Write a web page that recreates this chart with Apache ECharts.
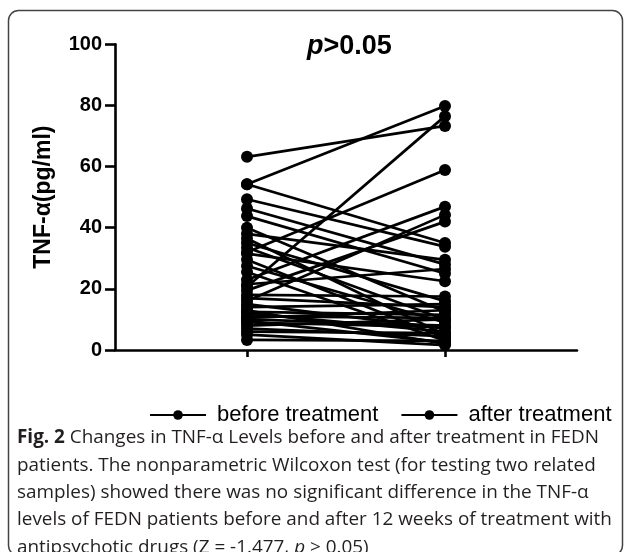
<!DOCTYPE html>
<html>
<head>
<meta charset="utf-8">
<script src="https://cdn.jsdelivr.net/npm/echarts@6/dist/echarts.min.js"></script>
<style>html,body{margin:0;padding:0;background:#fff;}#c{width:630px;height:552px;}</style>
</head>
<body>
<div id="c"></div>
<script>
// x positions (category slots), only slots 2 and 5 are used
const xSlots = ['', '', 'before', '', '', 'after', '', ''];
const yTicks = [0, 20, 40, 60, 80, 100];
const seriesNames = ['before treatment', 'after treatment'];
// paired TNF-α values (pg/ml)
const before = [63.2, 54.2, 20.7, 32, 54.2, 49.3, 46.3, 43.8, 40, 38, 36.5, 35, 33.5, 31.5, 29.5, 27.5, 25.5, 23, 21.5, 19.5, 18, 17, 16, 15, 14, 13, 12.5, 12, 11, 10.5, 10, 9.5, 9, 8, 7, 6, 5, 3.3];
const after  = [73.3, 79.8, 76.5, 58.9, 35, 33.8, 28, 25, 12.5, 29.5, 5, 16, 10, 22.5, 4, 9, 3, 46.9, 26.5, 42, 17.5, 14, 44.2, 7, 15, 2, 11.5, 6, 10.5, 13, 8, 2.5, 7.5, 10, 4.5, 5.5, 1.6, 3];

const captionLines = [
  '{b|Fig. 2} Changes in TNF-α Levels before and after treatment in FEDN',
  'patients. The nonparametric Wilcoxon test (for testing two related',
  'samples) showed there was no significant difference in the TNF-α',
  'levels of FEDN patients before and after 12 weeks of treatment with',
  'antipsychotic drugs (Z = -1.477, {i|p} > 0.05)'
];

const chart = echarts.init(document.getElementById('c'));
const pairSeries = before.map((b, i) => ({
  type: 'line',
  name: 'pair' + i,
  data: [[2, b], [5, after[i]]],
  symbol: 'circle',
  symbolSize: 12,
  lineStyle: { color: '#000', width: 2.7 },
  itemStyle: { color: '#000' },
  silent: true
}));
const legendSeries = seriesNames.map(n => ({
  type: 'line', name: n, data: [], symbol: 'circle', symbolSize: 12,
  lineStyle: { color: '#000', width: 3 }, itemStyle: { color: '#000' }
}));

const capFont = "'Open Sans', sans-serif";
const capSize = 18.9;
const graphics = [{
  type: 'rect', silent: true,
  shape: { x: 8.5, y: 10.5, width: 614, height: 545, r: 10 },
  style: { fill: 'none', stroke: '#444', lineWidth: 1.5 }
}];
captionLines.forEach((t, i) => {
  graphics.push({
    type: 'text', silent: true, x: 17, y: 438 + i * 27.3,
    style: {
      text: t, fill: '#231f20', font: capSize + 'px ' + capFont,
      verticalAlign: 'middle', textVerticalAlign: 'middle',
      rich: {
        b: { fontWeight: 'bold', fontSize: capSize, fontFamily: capFont, fill: '#231f20' },
        i: { fontStyle: 'italic', fontSize: capSize, fontFamily: capFont, fill: '#231f20' }
      }
    }
  });
});

chart.setOption({
  animation: false,
  backgroundColor: '#fff',
  title: {
    text: '{i|p}>0.05', left: 302, top: 28,
    textStyle: {
      fontSize: 27, fontWeight: 'bold', color: '#000', fontFamily: 'Liberation Sans, Arial',
      rich: { i: { fontStyle: 'italic', fontWeight: 'bold', fontSize: 27, color: '#000', fontFamily: 'Liberation Sans, Arial' } }
    }
  },
  legend: {
    data: seriesNames, left: 144, top: 399, itemWidth: 56, itemHeight: 12, itemGap: 22,
    textStyle: { fontSize: 22, color: '#000', fontFamily: 'Liberation Sans, Arial', padding: [0, 0, 0, 6] }
  },
  grid: { left: 115, right: 53, top: 44.3, bottom: 202, containLabel: false },
  xAxis: {
    type: 'category', data: xSlots, boundaryGap: false,
    axisLine: { lineStyle: { color: '#000', width: 2.6 } },
    axisTick: { show: true, length: 7, lineStyle: { color: '#000', width: 2.6 }, interval: (idx) => idx === 2 || idx === 5 },
    axisLabel: { show: false }, splitLine: { show: false }
  },
  yAxis: {
    type: 'value', min: yTicks[0], max: yTicks[yTicks.length - 1], interval: 20,
    name: 'TNF-α(pg/ml)', nameLocation: 'middle', nameGap: 60,
    nameTextStyle: { fontSize: 23, fontWeight: 'bold', color: '#000', fontFamily: 'Liberation Sans, Arial' },
    axisLine: { show: true, lineStyle: { color: '#000', width: 2.6 } },
    axisTick: { show: true, length: 10, lineStyle: { color: '#000', width: 2.6 } },
    axisLabel: { fontSize: 20, fontWeight: 'bold', color: '#000', margin: 13, fontFamily: 'Liberation Sans, Arial' },
    splitLine: { show: false }
  },
  graphic: graphics,
  series: legendSeries.concat(pairSeries)
});
</script>
</body>
</html>
